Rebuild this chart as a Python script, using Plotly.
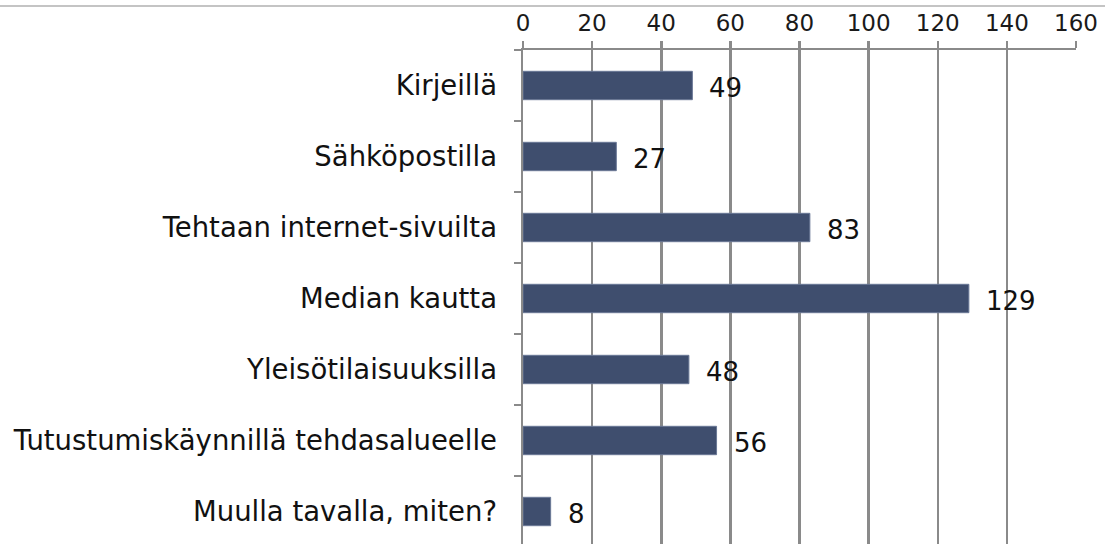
import plotly.graph_objects as go

categories = ["Kirjeillä", "Sähköpostilla", "Tehtaan internet-sivuilta", "Median kautta",
              "Yleisötilaisuuksilla", "Tutustumiskäynnillä tehdasalueelle", "Muulla tavalla, miten?"]
values = [49, 27, 83, 129, 48, 56, 8]
x_ticks = [0, 20, 40, 60, 80, 100, 120, 140, 160]

W, H = 1105, 544
L, R, T, B = 523, 29, 50, 0
plot_h = H - T - B
band = 71
n_visible = plot_h / band

fig = go.Figure()
fig.add_trace(go.Bar(
    x=values, y=categories, orientation="h",
    marker=dict(color="#3F4E6E", line=dict(color="#6A7896", width=1)),
    width=0.4, hoverinfo="skip",
))

for c, v in zip(categories, values):
    fig.add_annotation(x=v, y=c, text=str(v), showarrow=False, xanchor="left",
                       xshift=15, yshift=-2, font=dict(family="DejaVu Sans", size=26, color="#111111"))

fig.add_shape(type="line", xref="paper", yref="paper",
              x0=-L / (W - L - R) - 0.01, x1=1 + R / (W - L - R) + 0.01,
              y0=1 + 44 / plot_h, y1=1 + 44 / plot_h,
              line=dict(color="#C4C4C4", width=2))

fig.update_layout(
    width=W, height=H,
    margin=dict(l=L, r=R, t=T, b=B, pad=0),
    plot_bgcolor="white", paper_bgcolor="white",
    showlegend=False,
    font=dict(family="DejaVu Sans", color="#1A1A1A"),
    xaxis=dict(
        side="top", range=[0, 160], tickvals=x_ticks, ticktext=[str(t) for t in x_ticks],
        showgrid=True, gridcolor="#8A8A8A", gridwidth=2.5,
        showline=True, linecolor="#8A8A8A", linewidth=2.5,
        ticks="outside", ticklen=7, tickwidth=2.5, tickcolor="#8A8A8A",
        tickfont=dict(size=23, color="#1A1A1A"), ticklabelstandoff=0,
        zeroline=False, fixedrange=True,
    ),
    yaxis=dict(
        type="category", categoryorder="array", categoryarray=categories,
        range=[-0.5 + n_visible, -0.5],
        showgrid=False, showline=True, linecolor="#8A8A8A", linewidth=2.5,
        ticks="outside", ticklen=7, tickwidth=2.5, tickcolor="#8A8A8A",
        tickson="boundaries",
        tickfont=dict(size=27.5, color="#111111"), ticklabelstandoff=18,
        zeroline=False, fixedrange=True,
    ),
)

fig.write_html("out.html", config={"displayModeBar": False, "staticPlot": True},
               post_script="document.body.style.margin='0';document.body.style.padding='0';")
